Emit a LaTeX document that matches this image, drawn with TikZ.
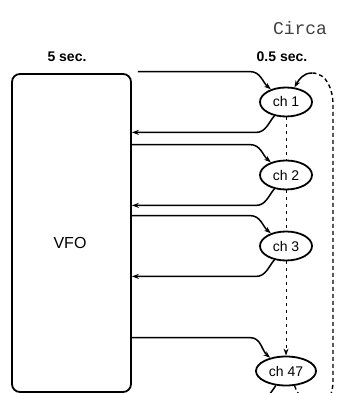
\documentclass[tikz,border=0pt]{standalone}
\usepackage{fontspec}
\setmainfont{Liberation Sans}
\setmonofont{Liberation Mono}
\usetikzlibrary{
  arrows.meta,
  positioning,
  calc,
  shapes.geometric
}

\begin{document}
\begin{tikzpicture}[
      x=1pt, y=1pt,
      >={Stealth[length=7pt,width=5pt]},
      chan/.style={draw, ellipse, line width=1.8pt, fill=white,
                   minimum width=52pt, minimum height=29pt, inner sep=0.5pt,
                   font=\fontsize{14}{15}\selectfont},
      link/.style={line width=1.5pt},
      scan/.style={line width=1pt, dash pattern=on 3pt off 4pt},
      loopback/.style={line width=1.4pt, dash pattern=on 4pt off 3pt},
      lbl/.style={font=\fontsize{14}{16}\selectfont\bfseries}
  ]
      \useasboundingbox (0,0) rectangle (337,393);
      \clip (0,0) rectangle (337,393);

      % VFO
      \node[draw, line width=1.8pt, rounded corners=8pt,
            minimum width=119pt, minimum height=318pt] (vfo) at (71.5,160) {};
      \node[font=\fontsize{16}{18}\selectfont] (vfolbl) at (70,150) {VFO};

      % Kanaele
      \node[chan] (ch1) at (286,291) {ch 1};
      \node[chan] (ch2) at (286,218) {ch 2};
      \node[chan] (ch3) at (286,147) {ch 3};
      \node[chan, minimum width=60pt] (ch47) at (286,22) {ch 47};

      % Zeiten
      \node[lbl] (t5) at (67,336) {5 sec.};
      \node[lbl] (t05) at (282,336) {0.5 sec.};
      \node[font=\ttfamily\fontsize{18}{19}\selectfont, text=black!75] (circa) at (300,365) {Circa};

      % hin
      \draw[link,->] ($(vfo.east |- ch1.north)+(6,15)$) -- ($(ch1.north)+(-36,15)$)
          to[out=0,in=140] (ch1.140);
      \draw[link,->] ($(vfo.east |- ch2.north)+(0,15)$) -- ($(ch2.north)+(-36,15)$)
          to[out=0,in=140] (ch2.140);
      \draw[link,->] ($(vfo.east |- ch3.north)+(0,15)$) -- ($(ch3.north)+(-36,15)$)
          to[out=0,in=140] (ch3.140);
      \draw[link,->] ($(vfo.east |- ch47.north)+(0,18)$) -- ($(ch47.north)+(-36,18)$)
          to[out=0,in=140] (ch47.140);

      % zurueck
      \draw[link,->] (ch1.230) to[out=230,in=0] ($(ch1.south)+(-30,-15)$)
          -- ($(vfo.east |- ch1.south)+(0,-15)$);
      \draw[link,->] (ch2.230) to[out=230,in=0] ($(ch2.south)+(-30,-15)$)
          -- ($(vfo.east |- ch2.south)+(0,-15)$);
      \draw[link,->] (ch3.230) to[out=230,in=0] ($(ch3.south)+(-30,-15)$)
          -- ($(vfo.east |- ch3.south)+(0,-15)$);
      \draw[link,->] (ch47.235) to[out=235,in=0] ($(ch47.south)+(-30,-15)$)
          -- ($(vfo.east |- ch47.south)+(0,-15)$);

      % Suchlauf
      \draw[scan] (ch1.south) -- (ch2.north);
      \draw[scan] (ch2.south) -- (ch3.north);
      \draw[scan,->] (ch3.south) -- (ch47.north);

      % Schleife
      \coordinate (lptop) at (312,320);
      \coordinate (lpright) at (333,288);
      \draw[loopback] (ch47.300) to[out=-70,in=180] (318,-12)
          to[out=0,in=-90] (333,12) -- (lpright) to[out=90,in=0] (lptop);
      \draw[link,->] (lptop) to[out=180,in=60] (ch1.60);
  \end{tikzpicture}
\end{document}
